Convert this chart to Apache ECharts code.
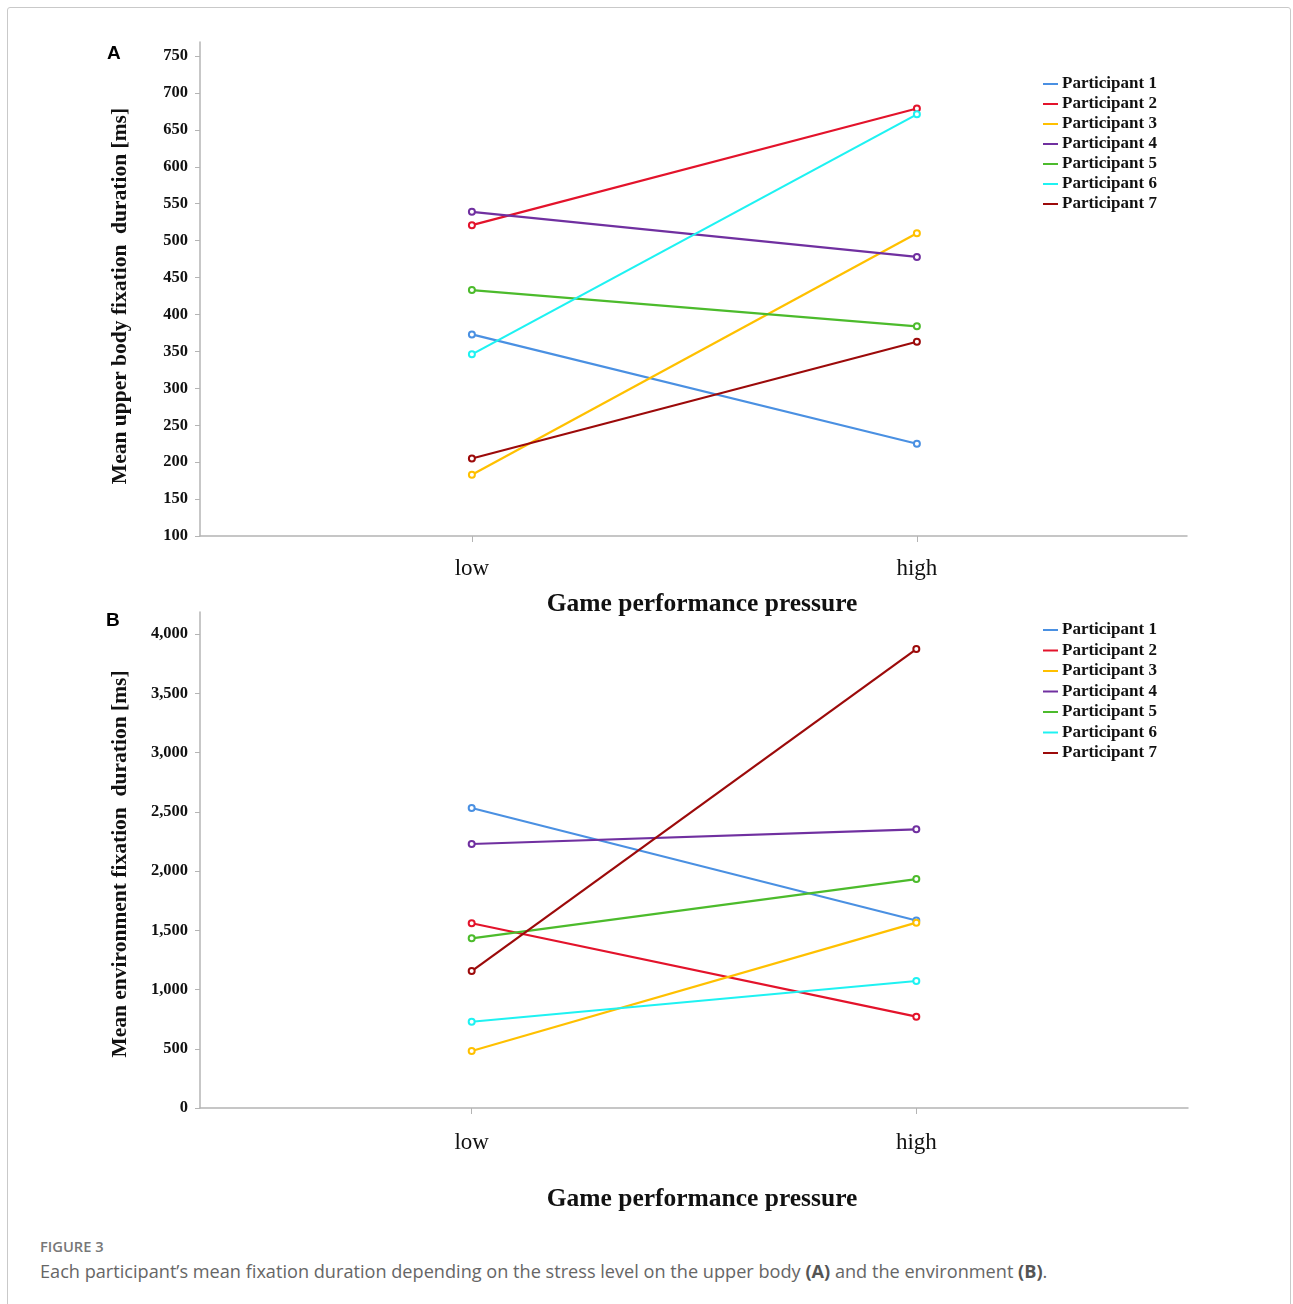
<!DOCTYPE html>
<html>
<head>
<meta charset="utf-8">
<script src="https://cdn.jsdelivr.net/npm/echarts@6/dist/echarts.min.js"></script>
<style>
  html, body { margin: 0; padding: 0; background: #fff; }
  #wrap { position: relative; width: 1293px; height: 1304px; overflow: hidden; }
  #frame { position: absolute; left: 7px; top: 7px; width: 1284px; height: 1320px; border: 1px solid #c9c9c9; border-radius: 3px; box-sizing: border-box; }
  #chart { position: absolute; left: 0; top: 0; width: 1293px; height: 1230px; }
  #figlabel { position: absolute; left: 40px; top: 1236px; font-family: "Open Sans", sans-serif; font-size: 14.7px; font-weight: 600; color: #777; }
  #caption { position: absolute; left: 40px; top: 1259px; font-family: "Open Sans", sans-serif; font-size: 18.15px; color: #666; white-space: nowrap; }
  #caption b { font-weight: 700; color: #555; }
</style>
</head>
<body>
<div id="wrap">
  <div id="frame"></div>
  <div id="chart"></div>
  <div id="figlabel">FIGURE 3</div>
  <div id="caption">Each participant’s mean fixation duration depending on the stress level on the upper body <b>(A)</b> and the environment <b>(B)</b>.</div>
</div>
<script>
const categories = ['low', 'high'];
const participants = ['Participant 1', 'Participant 2', 'Participant 3', 'Participant 4', 'Participant 5', 'Participant 6', 'Participant 7'];
const colors = ['#4a90e2', '#e3132b', '#ffc000', '#7030a0', '#4cbb2c', '#1ef2f2', '#9c0a0a'];
const upperBodyLow = [373, 521, 183, 539, 433, 346, 205];
const upperBodyHigh = [225, 679, 510, 478, 384, 671, 363];
const environmentLow = [2532, 1559, 481, 2228, 1432, 728, 1156];
const environmentHigh = [1582, 771, 1564, 2352, 1932, 1072, 3873];
const upperTicks = [100, 150, 200, 250, 300, 350, 400, 450, 500, 550, 600, 650, 700, 750];
const envTicks = [0, 500, 1000, 1500, 2000, 2500, 3000, 3500, 4000];
const yTitles = ['Mean upper body fixation  duration [ms]', 'Mean environment fixation  duration [ms]'];
const xTitle = 'Game performance pressure';

const serif = '"Liberation Serif", "Times New Roman", serif';
const axisGrey = '#b4b4b4';

function xAxisFor(gridIndex, minV, maxV, margin) {
  return {
    type: 'value', gridIndex: gridIndex, min: minV, max: maxV,
    axisLine: { show: true, onZero: false, lineStyle: { color: axisGrey, width: 1.5 } },
    axisTick: { show: true, customValues: [0, 1], length: 6, lineStyle: { color: axisGrey } },
    axisLabel: { customValues: [0, 1], margin: margin, formatter: v => categories[Math.round(v)] || '',
      fontFamily: serif, fontSize: 23, color: '#111' },
    splitLine: { show: false }
  };
}
function yAxisFor(gridIndex, minV, maxV, ticks, fmt) {
  return {
    type: 'value', gridIndex: gridIndex, min: minV, max: maxV,
    axisLine: { show: true, onZero: false, lineStyle: { color: axisGrey, width: 1.5 } },
    axisTick: { show: true, customValues: ticks, length: 5, lineStyle: { color: axisGrey } },
    axisLabel: { customValues: ticks, margin: 12, formatter: fmt,
      fontFamily: serif, fontSize: 16.5, fontWeight: 'bold', color: '#111' },
    splitLine: { show: false }
  };
}
function legendFor(top, gap) {
  return {
    orient: 'vertical', left: 1043, top: top, itemGap: gap, padding: 0,
    icon: 'rect', itemWidth: 15, itemHeight: 2,
    textStyle: { fontFamily: serif, fontSize: 17, fontWeight: 'bold', color: '#111', lineHeight: 17, padding: [0, 0, 0, -1] },
    data: participants
  };
}
function titleText(x, y, text, rotated) {
  return { type: 'text', x: x, y: y, rotation: rotated ? Math.PI / 2 : 0,
    style: { text: text, align: 'center', verticalAlign: 'middle', fontFamily: serif,
      fontSize: rotated ? 21.5 : 25.5, fontWeight: 'bold', fill: '#111' } };
}
const series = [];
participants.forEach((p, i) => {
  series.push({
    name: p, type: 'line', xAxisIndex: 0, yAxisIndex: 0,
    data: [[0, upperBodyLow[i]], [1, upperBodyHigh[i]]],
    symbol: 'emptyCircle', symbolSize: 6,
    lineStyle: { color: colors[i], width: 2.2 },
    itemStyle: { color: colors[i], borderWidth: 1.6 },
    emphasis: { disabled: true }, animation: false
  });
  series.push({
    name: p, type: 'line', xAxisIndex: 1, yAxisIndex: 1,
    data: [[0, environmentLow[i]], [1, environmentHigh[i]]],
    symbol: 'emptyCircle', symbolSize: 6,
    lineStyle: { color: colors[i], width: 2.2 },
    itemStyle: { color: colors[i], borderWidth: 1.6 },
    emphasis: { disabled: true }, animation: false
  });
});

const chart = echarts.init(document.getElementById('chart'), null, { renderer: 'canvas' });
chart.setOption({
  backgroundColor: 'transparent',
  animation: false,
  color: colors,
  grid: [
    { left: 200, top: 42, width: 987, height: 494 },
    { left: 200, top: 612, width: 988, height: 496 }
  ],
  xAxis: [
    xAxisFor(0, -0.611, 1.607, 21),
    xAxisFor(1, -0.611, 1.611, 23)
  ],
  yAxis: [
    yAxisFor(0, 100, 769, upperTicks, v => String(v)),
    yAxisFor(1, 0, 4186, envTicks, v => v.toLocaleString('en-US'))
  ],
  legend: [legendFor(75.5, 3), legendFor(621.5, 3.5)],
  graphic: [
    { type: 'text', left: 107, top: 44, style: { text: 'A', fontFamily: '"Liberation Sans", Arial, sans-serif', fontSize: 19, fontWeight: 'bold', fill: '#000' } },
    { type: 'text', left: 106, top: 611, style: { text: 'B', fontFamily: '"Liberation Sans", Arial, sans-serif', fontSize: 19, fontWeight: 'bold', fill: '#000' } },
    titleText(120, 296, yTitles[0], true),
    titleText(120, 864, yTitles[1], true),
    titleText(702, 604, xTitle, false),
    titleText(702, 1199, xTitle, false)
  ],
  series: series
});
</script>
</body>
</html>
